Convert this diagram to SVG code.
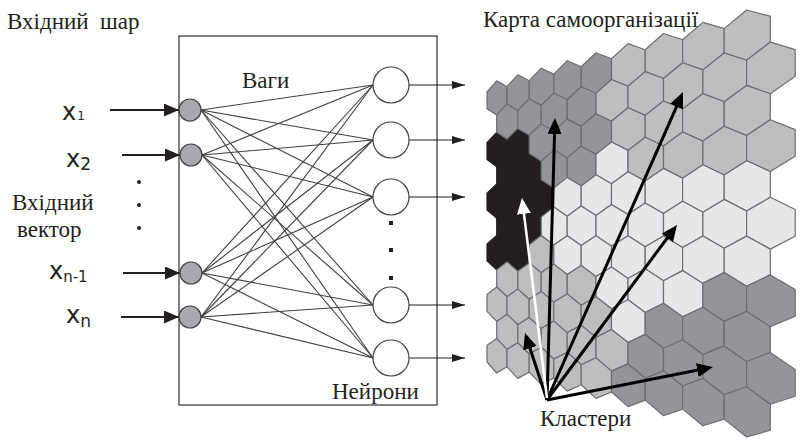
<svg xmlns="http://www.w3.org/2000/svg" width="800" height="439" viewBox="0 0 800 439">
<defs>
<style>
.hx{stroke:#6d6e71;stroke-width:1.2;stroke-linejoin:round}
.M{fill:#939598}.L{fill:#bcbec0}.V{fill:#e6e7e8}.D{fill:#231f20;stroke:#231f20}
.w{stroke:#414042;stroke-width:1.1;fill:none}
.serif{font-family:"Liberation Serif","Times New Roman",serif;font-size:23px;fill:#231f20}
.sans{font-family:"DejaVu Sans","Open Sans",sans-serif;fill:#231f20}
.inp{fill:#a7a9ac;stroke:#414042;stroke-width:1.2}
.out{fill:#fff;stroke:#414042;stroke-width:1.2}
.ain{stroke:#231f20;stroke-width:2;fill:none}
.aout{stroke:#231f20;stroke-width:1.2;fill:none}
.big{stroke:#000;stroke-width:3;fill:none}
.wht{stroke:#fff;stroke-width:2.6;fill:none}
</style>
<marker id="hin" viewBox="0 0 15 13" refX="15" refY="6.5" markerWidth="15" markerHeight="13" markerUnits="userSpaceOnUse" orient="auto"><path d="M0,0L15,6.5L0,13z" fill="#231f20"/></marker>
<marker id="hout" viewBox="0 0 13 8" refX="13" refY="4" markerWidth="13" markerHeight="8" markerUnits="userSpaceOnUse" orient="auto"><path d="M0,0L13,4L0,8z" fill="#231f20"/></marker>
<marker id="hb" viewBox="0 0 16 14" refX="6" refY="7" markerWidth="16" markerHeight="14" markerUnits="userSpaceOnUse" orient="auto"><path d="M0,0L16,7L0,14z" fill="#000"/></marker>
<marker id="hw" viewBox="0 0 16 14" refX="6" refY="7" markerWidth="16" markerHeight="14" markerUnits="userSpaceOnUse" orient="auto"><path d="M0,0L16,7L0,14z" fill="#fff"/></marker>
</defs>
<rect width="800" height="439" fill="#fff"/>

<g id="som-map" class="hx">
<polygon class="D" points="496.7,132.3 507,139.2 507,156.7 496.7,166.7 487,159.5 487,142.6"/>
<polygon class="D" points="517.8,128.4 529.2,135.3 529.2,153.6 517.8,164.1 507,156.7 507,139.2"/>
<polygon class="D" points="507,156.7 517.8,164.1 517.8,181.9 507,191.7 496.7,183.9 496.7,166.7"/>
<polygon class="D" points="529.2,153.6 541.2,161.2 541.2,179.8 529.2,190 517.8,181.9 517.8,164.1"/>
<polygon class="D" points="496.7,183.9 507,191.7 507,209.2 496.7,218.3 487,210.1 487,193.2"/>
<polygon class="D" points="517.8,181.9 529.2,190 529.2,208.2 517.8,217.7 507,209.2 507,191.7"/>
<polygon class="D" points="541.2,179.8 553.8,188.1 553.8,207.1 541.2,217 529.2,208.2 529.2,190"/>
<polygon class="D" points="507,209.2 517.8,217.7 517.8,235.5 507,244.2 496.7,235.5 496.7,218.3"/>
<polygon class="D" points="529.2,208.2 541.2,217 541.2,235.6 529.2,244.7 517.8,235.5 517.8,217.7"/>
<polygon class="D" points="496.7,235.5 507,244.2 507,261.8 496.7,269.9 487,260.8 487,243.9"/>
<polygon class="D" points="517.8,235.5 529.2,244.7 529.2,262.9 517.8,271.2 507,261.8 507,244.2"/>

<polygon class="M" points="496.7,80.8 507,86.6 507,104.1 496.7,115.1 487,108.8 487,92"/>
<polygon class="M" points="517.8,74.8 529.2,80.7 529.2,98.9 517.8,110.5 507,104.1 507,86.6"/>
<polygon class="M" points="541.2,68.2 553.8,74.1 553.8,93.1 541.2,105.4 529.2,98.9 529.2,80.7"/>
<polygon class="M" points="567.2,60.8 581.2,66.8 581.2,86.7 567.2,99.7 553.8,93.1 553.8,74.1"/>
<polygon class="M" points="596,52.7 611.5,58.7 611.5,79.5 596,93.3 581.2,86.7 581.2,66.8"/>
<polygon class="L" points="628,43.6 645.2,49.7 645.2,71.6 628,86.3 611.5,79.5 611.5,58.7"/>
<polygon class="L" points="663.5,33.5 682.6,39.7 682.6,62.7 663.5,78.5 645.2,71.6 645.2,49.7"/>
<polygon class="L" points="702.9,22.4 724.2,28.6 724.2,53 702.9,69.9 682.6,62.7 682.6,39.7"/>
<polygon class="L" points="746.6,10 770.3,16.2 770.3,42.1 746.6,60.2 724.2,53 724.2,28.6"/>

<polygon class="M" points="507,104.1 517.8,110.5 517.8,128.4 507,139.2 496.7,132.3 496.7,115.1"/>
<polygon class="M" points="529.2,98.9 541.2,105.4 541.2,124 529.2,135.3 517.8,128.4 517.8,110.5"/>
<polygon class="M" points="553.8,93.1 567.2,99.7 567.2,119.1 553.8,131.1 541.2,124 541.2,105.4"/>
<polygon class="M" points="581.2,86.7 596,93.3 596,113.7 581.2,126.4 567.2,119.1 567.2,99.7"/>
<polygon class="L" points="611.5,79.5 628,86.3 628,107.7 611.5,121.2 596,113.7 596,93.3"/>
<polygon class="L" points="645.2,71.6 663.5,78.5 663.5,101 645.2,115.4 628,107.7 628,86.3"/>
<polygon class="L" points="682.6,62.7 702.9,69.9 702.9,93.6 682.6,108.9 663.5,101 663.5,78.5"/>
<polygon class="L" points="724.2,53 746.6,60.2 746.6,85.4 724.2,101.8 702.9,93.6 702.9,69.9"/>
<polygon class="L" points="770.3,42.1 795.2,49.6 795.2,76.2 770.3,93.8 746.6,85.4 746.6,60.2"/>

<polygon class="M" points="541.2,124 553.8,131.1 553.8,150.1 541.2,161.2 529.2,153.6 529.2,135.3"/>
<polygon class="M" points="567.2,119.1 581.2,126.4 581.2,146.3 567.2,157.9 553.8,150.1 553.8,131.1"/>
<polygon class="M" points="596,113.7 611.5,121.2 611.5,142 596,154.4 581.2,146.3 581.2,126.4"/>
<polygon class="L" points="628,107.7 645.2,115.4 645.2,137.3 628,150.4 611.5,142 611.5,121.2"/>
<polygon class="L" points="663.5,101 682.6,108.9 682.6,132 663.5,146 645.2,137.3 645.2,115.4"/>
<polygon class="L" points="702.9,93.6 724.2,101.8 724.2,126.2 702.9,141.1 682.6,132 682.6,108.9"/>
<polygon class="L" points="746.6,85.4 770.3,93.8 770.3,119.7 746.6,135.6 724.2,126.2 724.2,101.8"/>

<polygon class="M" points="553.8,150.1 567.2,157.9 567.2,177.4 553.8,188.1 541.2,179.8 541.2,161.2"/>
<polygon class="M" points="581.2,146.3 596,154.4 596,174.7 581.2,186 567.2,177.4 567.2,157.9"/>
<polygon class="V" points="611.5,142 628,150.4 628,171.7 611.5,183.7 596,174.7 596,154.4"/>
<polygon class="L" points="645.2,137.3 663.5,146 663.5,168.4 645.2,181.1 628,171.7 628,150.4"/>
<polygon class="L" points="682.6,132 702.9,141.1 702.9,164.8 682.6,178.2 663.5,168.4 663.5,146"/>
<polygon class="L" points="724.2,126.2 746.6,135.6 746.6,160.7 724.2,175 702.9,164.8 702.9,141.1"/>
<polygon class="L" points="770.3,119.7 795.2,129.6 795.2,156.2 770.3,171.5 746.6,160.7 746.6,135.6"/>

<polygon class="V" points="567.2,177.4 581.2,186 581.2,205.9 567.2,216.2 553.8,207.1 553.8,188.1"/>
<polygon class="V" points="596,174.7 611.5,183.7 611.5,204.5 596,215.4 581.2,205.9 581.2,186"/>
<polygon class="V" points="628,171.7 645.2,181.1 645.2,203 628,214.4 611.5,204.5 611.5,183.7"/>
<polygon class="V" points="663.5,168.4 682.6,178.2 682.6,201.3 663.5,213.4 645.2,203 645.2,181.1"/>
<polygon class="V" points="702.9,164.8 724.2,175 724.2,199.4 702.9,212.2 682.6,201.3 682.6,178.2"/>
<polygon class="V" points="746.6,160.7 770.3,171.5 770.3,197.3 746.6,211 724.2,199.4 724.2,175"/>

<polygon class="V" points="553.8,207.1 567.2,216.2 567.2,235.7 553.8,245.1 541.2,235.6 541.2,217"/>
<polygon class="V" points="581.2,205.9 596,215.4 596,235.7 581.2,245.6 567.2,235.7 567.2,216.2"/>
<polygon class="V" points="611.5,204.5 628,214.4 628,235.8 611.5,246.2 596,235.7 596,215.4"/>
<polygon class="V" points="645.2,203 663.5,213.4 663.5,235.9 645.2,246.8 628,235.8 628,214.4"/>
<polygon class="V" points="682.6,201.3 702.9,212.2 702.9,236 682.6,247.5 663.5,235.9 663.5,213.4"/>
<polygon class="V" points="724.2,199.4 746.6,211 746.6,236.1 724.2,248.2 702.9,236 702.9,212.2"/>
<polygon class="V" points="770.3,197.3 795.2,209.5 795.2,236.2 770.3,249.1 746.6,236.1 746.6,211"/>

<polygon class="L" points="541.2,235.6 553.8,245.1 553.8,264.1 541.2,272.8 529.2,262.9 529.2,244.7"/>
<polygon class="V" points="567.2,235.7 581.2,245.6 581.2,265.5 567.2,274.5 553.8,264.1 553.8,245.1"/>
<polygon class="V" points="596,235.7 611.5,246.2 611.5,267 596,276.4 581.2,265.5 581.2,245.6"/>
<polygon class="V" points="628,235.8 645.2,246.8 645.2,268.7 628,278.5 611.5,267 611.5,246.2"/>
<polygon class="V" points="663.5,235.9 682.6,247.5 682.6,270.6 663.5,280.8 645.2,268.7 645.2,246.8"/>
<polygon class="V" points="702.9,236 724.2,248.2 724.2,272.6 702.9,283.4 682.6,270.6 682.6,247.5"/>
<polygon class="V" points="746.6,236.1 770.3,249.1 770.3,274.9 746.6,286.3 724.2,272.6 724.2,248.2"/>

<polygon class="L" points="507,261.8 517.8,271.2 517.8,289.1 507,296.8 496.7,287 496.7,269.9"/>
<polygon class="L" points="529.2,262.9 541.2,272.8 541.2,291.4 529.2,299.3 517.8,289.1 517.8,271.2"/>
<polygon class="L" points="553.8,264.1 567.2,274.5 567.2,293.9 553.8,302.1 541.2,291.4 541.2,272.8"/>
<polygon class="L" points="581.2,265.5 596,276.4 596,296.7 581.2,305.2 567.2,293.9 567.2,274.5"/>
<polygon class="V" points="611.5,267 628,278.5 628,299.8 611.5,308.7 596,296.7 596,276.4"/>
<polygon class="V" points="645.2,268.7 663.5,280.8 663.5,303.3 645.2,312.5 628,299.8 628,278.5"/>
<polygon class="V" points="682.6,270.6 702.9,283.4 702.9,307.2 682.6,316.7 663.5,303.3 663.5,280.8"/>
<polygon class="M" points="724.2,272.6 746.6,286.3 746.6,311.4 724.2,321.4 702.9,307.2 702.9,283.4"/>
<polygon class="M" points="770.3,274.9 795.2,289.5 795.2,316.2 770.3,326.7 746.6,311.4 746.6,286.3"/>

<polygon class="L" points="496.7,287 507,296.8 507,314.3 496.7,321.4 487,311.4 487,294.5"/>
<polygon class="L" points="517.8,289.1 529.2,299.3 529.2,317.5 517.8,324.8 507,314.3 507,296.8"/>
<polygon class="L" points="541.2,291.4 553.8,302.1 553.8,321.1 541.2,328.6 529.2,317.5 529.2,299.3"/>
<polygon class="L" points="567.2,293.9 581.2,305.2 581.2,325.1 567.2,332.8 553.8,321.1 553.8,302.1"/>
<polygon class="L" points="596,296.7 611.5,308.7 611.5,329.5 596,337.4 581.2,325.1 581.2,305.2"/>
<polygon class="V" points="628,299.8 645.2,312.5 645.2,334.4 628,342.5 611.5,329.5 611.5,308.7"/>
<polygon class="M" points="663.5,303.3 682.6,316.7 682.6,339.8 663.5,348.3 645.2,334.4 645.2,312.5"/>
<polygon class="M" points="702.9,307.2 724.2,321.4 724.2,345.9 702.9,354.6 682.6,339.8 682.6,316.7"/>
<polygon class="M" points="746.6,311.4 770.3,326.7 770.3,352.5 746.6,361.7 724.2,345.9 724.2,321.4"/>

<polygon class="L" points="507,314.3 517.8,324.8 517.8,342.7 507,349.3 496.7,338.6 496.7,321.4"/>
<polygon class="L" points="529.2,317.5 541.2,328.6 541.2,347.2 529.2,354 517.8,342.7 517.8,324.8"/>
<polygon class="L" points="553.8,321.1 567.2,332.8 567.2,352.2 553.8,359.1 541.2,347.2 541.2,328.6"/>
<polygon class="L" points="581.2,325.1 596,337.4 596,357.8 581.2,364.8 567.2,352.2 567.2,332.8"/>
<polygon class="L" points="611.5,329.5 628,342.5 628,363.9 611.5,371.1 596,357.8 596,337.4"/>
<polygon class="M" points="645.2,334.4 663.5,348.3 663.5,370.8 645.2,378.2 628,363.9 628,342.5"/>
<polygon class="M" points="682.6,339.8 702.9,354.6 702.9,378.4 682.6,386 663.5,370.8 663.5,348.3"/>
<polygon class="M" points="724.2,345.9 746.6,361.7 746.6,386.8 724.2,394.7 702.9,378.4 702.9,354.6"/>
<polygon class="M" points="770.3,352.5 795.2,369.5 795.2,396.2 770.3,404.3 746.6,386.8 746.6,361.7"/>

<polygon class="L" points="496.7,338.6 507,349.3 507,366.8 496.7,373 487,362 487,345.2"/>
<polygon class="L" points="517.8,342.7 529.2,354 529.2,372.2 517.8,378.4 507,366.8 507,349.3"/>
<polygon class="L" points="541.2,347.2 553.8,359.1 553.8,378.1 541.2,384.4 529.2,372.2 529.2,354"/>
<polygon class="L" points="567.2,352.2 581.2,364.8 581.2,384.7 567.2,391.1 553.8,378.1 553.8,359.1"/>
<polygon class="L" points="596,357.8 611.5,371.1 611.5,392 596,398.4 581.2,384.7 581.2,364.8"/>
<polygon class="M" points="628,363.9 645.2,378.2 645.2,400.1 628,406.6 611.5,392 611.5,371.1"/>
<polygon class="M" points="663.5,370.8 682.6,386 682.6,409.1 663.5,415.7 645.2,400.1 645.2,378.2"/>
<polygon class="M" points="702.9,378.4 724.2,394.7 724.2,419.1 702.9,425.8 682.6,409.1 682.6,386"/>
<polygon class="M" points="746.6,386.8 770.3,404.3 770.3,430.2 746.6,437 724.2,419.1 724.2,394.7"/>
</g>

<g id="layer-box"><rect x="179" y="36" width="258" height="369" fill="none" stroke="#414042" stroke-width="1.3"/></g>

<g id="connectors">
<g class="w">
<line x1="201" y1="110" x2="373" y2="85"/><line x1="201" y1="110" x2="373" y2="140"/><line x1="201" y1="110" x2="373" y2="197"/><line x1="201" y1="110" x2="373" y2="305"/><line x1="201" y1="110" x2="373" y2="358"/>
<line x1="202" y1="155" x2="373" y2="85"/><line x1="202" y1="155" x2="373" y2="140"/><line x1="202" y1="155" x2="373" y2="197"/><line x1="202" y1="155" x2="373" y2="305"/><line x1="202" y1="155" x2="373" y2="358"/>
<line x1="202" y1="273" x2="373" y2="85"/><line x1="202" y1="273" x2="373" y2="140"/><line x1="202" y1="273" x2="373" y2="197"/><line x1="202" y1="273" x2="373" y2="305"/><line x1="202" y1="273" x2="373" y2="358"/>
<line x1="201" y1="317" x2="373" y2="85"/><line x1="201" y1="317" x2="373" y2="140"/><line x1="201" y1="317" x2="373" y2="197"/><line x1="201" y1="317" x2="373" y2="305"/><line x1="201" y1="317" x2="373" y2="358"/>
</g>
<line class="ain" x1="110" y1="110" x2="179" y2="110" marker-end="url(#hin)"/>
<line class="ain" x1="122" y1="155" x2="180" y2="155" marker-end="url(#hin)"/>
<line class="ain" x1="123" y1="273" x2="180" y2="273" marker-end="url(#hin)"/>
<line class="ain" x1="121" y1="317" x2="179" y2="317" marker-end="url(#hin)"/>
<line class="aout" x1="409" y1="85" x2="465" y2="85" marker-end="url(#hout)"/>
<line class="aout" x1="409" y1="140" x2="465" y2="140" marker-end="url(#hout)"/>
<line class="aout" x1="409" y1="197" x2="465" y2="197" marker-end="url(#hout)"/>
<line class="aout" x1="409" y1="305" x2="465" y2="305" marker-end="url(#hout)"/>
<line class="aout" x1="409" y1="358" x2="465" y2="358" marker-end="url(#hout)"/>
<line class="big" x1="547" y1="400" x2="554.7" y2="128" marker-end="url(#hb)"/>
<line class="big" x1="547" y1="400" x2="679" y2="101.1" marker-end="url(#hb)"/>
<line class="big" x1="547" y1="400" x2="671" y2="233" marker-end="url(#hb)"/>
<line class="big" x1="547" y1="400" x2="703.2" y2="369" marker-end="url(#hb)"/>
<line class="big" x1="547" y1="400" x2="528.1" y2="342.5" marker-end="url(#hb)"/>
<line class="wht" x1="547" y1="398" x2="523.2" y2="207.9" marker-end="url(#hw)"/>
</g>

<g id="input-1"><circle class="inp" cx="190" cy="110" r="11"/></g>
<g id="input-2"><circle class="inp" cx="191" cy="155" r="11"/></g>
<g id="input-3"><circle class="inp" cx="191" cy="273" r="11"/></g>
<g id="input-4"><circle class="inp" cx="190" cy="317" r="11"/></g>
<g id="neuron-1"><circle class="out" cx="391" cy="85" r="18"/></g>
<g id="neuron-2"><circle class="out" cx="391" cy="140" r="18"/></g>
<g id="neuron-3"><circle class="out" cx="391" cy="197" r="18"/></g>
<g id="neuron-4"><circle class="out" cx="391" cy="305" r="18"/></g>
<g id="neuron-5"><circle class="out" cx="391" cy="358" r="18"/></g>

<g id="ellipsis" fill="#231f20">
<circle cx="139" cy="182" r="2"/><circle cx="139" cy="205" r="2"/><circle cx="139" cy="228" r="2"/>
<rect x="389" y="221" width="4" height="4"/><rect x="389" y="248" width="4" height="4"/><rect x="389" y="276" width="4" height="4"/>
</g>

<g id="labels">
<text class="serif" x="7" y="29" xml:space="preserve">Вхідний  шар</text>
<text class="serif" x="242" y="88">Ваги</text>
<text class="serif" x="12" y="210">Вхідний</text>
<text class="serif" x="17" y="237">вектор</text>
<text class="serif" x="332" y="399">Нейрони</text>
<text class="serif" x="483" y="27">Карта самоорганізації</text>
<text class="serif" x="540" y="426">Кластери</text>
<text class="sans" x="62" y="120" font-size="24">x<tspan font-size="12" dx="1">1</tspan></text>
<text class="sans" x="66" y="167" font-size="24">x<tspan font-size="17" dy="3">2</tspan></text>
<text class="sans" x="49" y="279" font-size="24">x<tspan font-size="15" dy="3">n-1</tspan></text>
<text class="sans" x="66" y="323" font-size="24">x<tspan font-size="17" dy="4">n</tspan></text>
</g>
</svg>
